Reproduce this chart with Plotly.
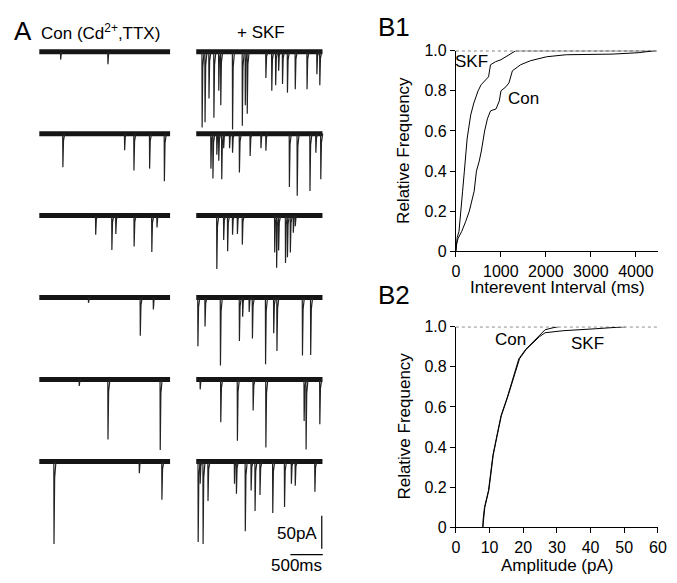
import plotly.graph_objects as go

W, H = 677, 583
FONT = "Arial, Liberation Sans, sans-serif"

# ---------------- Panel A: event times (ms) and amplitudes (pA) ----------------
CON_TIMES = [
    [330, 1060],
    [364, 1318, 1462, 1704, 1932],
    [871, 1121, 1182, 1465, 1738, 1818],
    [760, 1560, 1762],
    [617, 1061, 1868],
    [227, 1545, 1894],
]
CON_AMPS = [
    [12, 19],
    [51, 25, 56, 53, 72],
    [29, 52, 28, 47, 55, 18],
    [8, 58, 18],
    [10, 91, 107],
    [125, 18, 58],
]
SKF_TIMES = [
    [91, 136, 197, 273, 348, 379, 561, 712, 758, 788, 1076, 1167, 1227, 1273, 1333, 1409, 1530, 1712, 1864, 1909],
    [227, 258, 318, 348, 394, 424, 515, 561, 667, 833, 1000, 1076, 1439, 1560, 1757, 1848, 1924],
    [318, 424, 485, 561, 636, 712, 1212, 1242, 1273, 1379, 1409, 1454, 1500, 1530],
    [26, 136, 374, 667, 717, 818, 868, 1071, 1197, 1247, 1641, 1768],
    [61, 379, 636, 879, 1076, 1667, 1697, 1909],
    [30, 61, 106, 182, 591, 621, 758, 848, 909, 985, 1182, 1364, 1470, 1530, 1833],
]
SKF_AMPS = [
    [115, 107, 71, 100, 59, 81, 118, 112, 81, 94, 40, 59, 51, 29, 49, 62, 57, 57, 34, 51],
    [53, 68, 32, 41, 69, 22, 22, 29, 59, 34, 22, 26, 81, 94, 87, 29, 69],
    [81, 37, 54, 29, 28, 44, 56, 79, 53, 72, 63, 56, 26, 16],
    [74, 44, 103, 66, 29, 22, 62, 101, 54, 81, 88, 87],
    [15, 65, 93, 47, 103, 63, 106, 68],
    [122, 34, 125, 60, 34, 49, 106, 44, 75, 51, 78, 69, 34, 37, 46],
]
CON_DUR_MS = 2020
SKF_DUR_MS = 1950
SCALE_PA = 50
SCALE_MS = 500

# ---------------- Panel B1: interevent interval cumulative ----------------
SKF_IEI_MS = [0, 10, 30, 70, 116, 150, 189, 218, 250, 276, 330, 400, 494, 560, 639, 726, 770, 880, 1002, 1120, 1220, 1329, 4450]
SKF_IEI_F = [0, 0.04, 0.07, 0.10, 0.20, 0.30, 0.40, 0.50, 0.56, 0.60, 0.68, 0.74, 0.80, 0.83, 0.85, 0.87, 0.93, 0.945, 0.955, 0.97, 0.987, 1.0, 1.0]
CON_IEI_MS = [0, 20, 50, 131, 220, 298, 407, 457, 520, 566, 639, 700, 770, 893, 966, 1002, 1111, 1180, 1256, 1438, 1655, 2018, 2454, 3470, 4051, 4414]
CON_IEI_F = [0, 0.04, 0.065, 0.10, 0.15, 0.20, 0.30, 0.40, 0.45, 0.50, 0.60, 0.66, 0.70, 0.71, 0.75, 0.80, 0.82, 0.84, 0.90, 0.93, 0.95, 0.97, 0.98, 0.983, 0.99, 1.0]

# ---------------- Panel B2: amplitude cumulative ----------------
CON_AMP_PA = [8.0, 8.1, 8.5, 9.7, 11.0, 12.2, 13.4, 15.3, 17.3, 18.7, 20.7, 22.6, 24.6, 26.5, 28.9, 30.4]
CON_AMP_F = [0, 0.04, 0.10, 0.185, 0.36, 0.46, 0.556, 0.65, 0.766, 0.84, 0.887, 0.92, 0.95, 0.985, 0.995, 1.0]
SKF_AMP_PA = [8.0, 8.2, 8.6, 9.8, 11.1, 12.3, 13.5, 15.4, 17.4, 18.9, 20.9, 22.8, 24.8, 26.5, 31.8, 41.5, 50.3]
SKF_AMP_F = [0, 0.04, 0.10, 0.185, 0.36, 0.46, 0.556, 0.65, 0.766, 0.84, 0.887, 0.92, 0.95, 0.97, 0.98, 0.99, 1.0]

FREQ_TICKS = [0, 0.2, 0.4, 0.6, 0.8, 1.0]
FREQ_TEXT = ["0", "0.2", "0.4", "0.6", "0.8", "1.0"]
IEI_TICKS = [0, 1000, 2000, 3000, 4000]
AMP_TICKS = [0, 10, 20, 30, 40, 50, 60]

# ---------------- layout geometry (pixels) ----------------
def px(x):
    return x / W

def py(y):
    return 1 - y / H

PX_PER_MS = 33 / 500.0
PX_PER_PA = 34 / 50.0
A_X0 = 36          # left trace start
A_COL_SHIFT = 160  # right column start offset (px)
A_Y0 = 45          # first baseline
A_ROW_STEP = 84.4  # row spacing (px)
A_DOM_X = (30, 335)
A_DOM_Y = (10, 570)

fig = go.Figure()

col_off_ms = [0, A_COL_SHIFT / PX_PER_MS]
row_off_pa = [-(i * A_ROW_STEP) / PX_PER_PA for i in range(6)]

def add_trace_row(times, amps, dur, xoff, yoff):
    fig.add_trace(go.Scatter(x=[xoff, xoff + dur], y=[yoff, yoff], mode="lines",
                             line=dict(color="#151515", width=5), xaxis="x", yaxis="y",
                             hoverinfo="skip", showlegend=False))
    xs, ys = [], []
    for t, a in zip(times, amps):
        xs += [xoff + t - 3, xoff + t, xoff + t + 10, xoff + t + 30, None]
        ys += [yoff, yoff - a, yoff - 0.2 * a, yoff, None]
    fig.add_trace(go.Scatter(x=xs, y=ys, mode="lines", connectgaps=False,
                             line=dict(color="#222222", width=1.2), xaxis="x", yaxis="y",
                             hoverinfo="skip", showlegend=False))

for i in range(6):
    add_trace_row(CON_TIMES[i], CON_AMPS[i], CON_DUR_MS, col_off_ms[0], row_off_pa[i])
    add_trace_row(SKF_TIMES[i], SKF_AMPS[i], SKF_DUR_MS, col_off_ms[1], row_off_pa[i])

# scale bars
sb_x = (324 - A_X0) / PX_PER_MS
sb_ytop = -(523 - A_Y0) / PX_PER_PA
fig.add_trace(go.Scatter(x=[sb_x, sb_x], y=[sb_ytop, sb_ytop - SCALE_PA], mode="lines",
                         line=dict(color="black", width=1.2), xaxis="x", yaxis="y",
                         hoverinfo="skip", showlegend=False))
hb_y = -(563 - A_Y0) / PX_PER_PA
hb_x1 = (325 - A_X0) / PX_PER_MS
fig.add_trace(go.Scatter(x=[hb_x1 - SCALE_MS, hb_x1], y=[hb_y, hb_y], mode="lines",
                         line=dict(color="black", width=1.2), xaxis="x", yaxis="y",
                         hoverinfo="skip", showlegend=False))

# B1 curves
B1_XMAX = 4488
fig.add_trace(go.Scatter(x=[0, B1_XMAX], y=[1, 1], mode="lines",
                         line=dict(color="black", width=1.2, dash="dot"),
                         xaxis="x2", yaxis="y2", showlegend=False, hoverinfo="skip"))
fig.add_trace(go.Scatter(x=SKF_IEI_MS, y=SKF_IEI_F, mode="lines",
                         line=dict(color="black", width=1), xaxis="x2", yaxis="y2",
                         showlegend=False, name="SKF"))
fig.add_trace(go.Scatter(x=CON_IEI_MS, y=CON_IEI_F, mode="lines",
                         line=dict(color="black", width=1), xaxis="x2", yaxis="y2",
                         showlegend=False, name="Con"))

# B2 curves
fig.add_trace(go.Scatter(x=[0, 60], y=[1, 1], mode="lines",
                         line=dict(color="black", width=1.2, dash="dot"),
                         xaxis="x3", yaxis="y3", showlegend=False, hoverinfo="skip"))
fig.add_trace(go.Scatter(x=SKF_AMP_PA, y=SKF_AMP_F, mode="lines",
                         line=dict(color="black", width=1), xaxis="x3", yaxis="y3",
                         showlegend=False, name="SKF"))
fig.add_trace(go.Scatter(x=CON_AMP_PA, y=CON_AMP_F, mode="lines",
                         line=dict(color="black", width=1), xaxis="x3", yaxis="y3",
                         showlegend=False, name="Con"))

axis_common = dict(showline=True, linecolor="black", linewidth=1, ticks="outside",
                   ticklen=5, tickwidth=1, tickcolor="black", showgrid=False, zeroline=False,
                   tickfont=dict(family=FONT, size=16, color="black"))

B_X = (460.7, 666.7)
B1_Y = (44, 250.7)
B2_Y = (328.3, 535)

fig.update_layout(
    width=W, height=H, margin=dict(l=0, r=0, t=0, b=0, pad=0), autosize=False,
    paper_bgcolor="white", plot_bgcolor="rgba(0,0,0,0)", showlegend=False,
    xaxis=dict(domain=[px(A_DOM_X[0]), px(A_DOM_X[1])],
               range=[(A_DOM_X[0] - A_X0) / PX_PER_MS, (A_DOM_X[1] - A_X0) / PX_PER_MS],
               visible=False),
    yaxis=dict(domain=[py(A_DOM_Y[1]), py(A_DOM_Y[0])],
               range=[-(A_DOM_Y[1] - A_Y0) / PX_PER_PA, -(A_DOM_Y[0] - A_Y0) / PX_PER_PA],
               visible=False),
    xaxis2=dict(domain=[px(B_X[0]), px(B_X[1])], range=[0, B1_XMAX], anchor="y2",
                tickvals=IEI_TICKS, **axis_common),
    yaxis2=dict(domain=[py(B1_Y[1]), py(B1_Y[0])], range=[0, 1], anchor="x2",
                tickvals=FREQ_TICKS, ticktext=FREQ_TEXT, **axis_common),
    xaxis3=dict(domain=[px(B_X[0]), px(B_X[1])], range=[0, 60], anchor="y3",
                tickvals=AMP_TICKS, **axis_common),
    yaxis3=dict(domain=[py(B2_Y[1]), py(B2_Y[0])], range=[0, 1], anchor="x3",
                tickvals=FREQ_TICKS, ticktext=FREQ_TEXT, **axis_common),
)

def label(text, x, y, size=17, xanchor="center", yanchor="middle", angle=0):
    fig.add_annotation(text=text, x=px(x), y=py(y), xref="paper", yref="paper",
                       showarrow=False, xanchor=xanchor, yanchor=yanchor, textangle=angle,
                       font=dict(family=FONT, size=size, color="black"))

label("A", 19, 24, size=26)
label("Con (Cd<sup>2+</sup>,TTX)", 36, 25, xanchor="left")
label("+ SKF", 262, 25)
label("50pA", 321, 541, xanchor="right")
label("500ms", 298, 574)
label("B1", 398, 20, size=26)
label("B2", 398, 296, size=26)
label("Relative Frequency", 408, 147, angle=-90)
label("Relative Frequency", 408, 431, angle=-90)
label("Interevent Interval (ms)", 564, 288)
label("Amplitude (pA)", 564, 574)
label("SKF", 477, 55)
label("Con", 530, 93)
label("Con", 516, 341)
label("SKF", 595, 346)

fig.write_html("out.html", config={"displayModeBar": False},
               post_script="document.body.style.margin='0px';document.body.style.overflow='hidden';")
